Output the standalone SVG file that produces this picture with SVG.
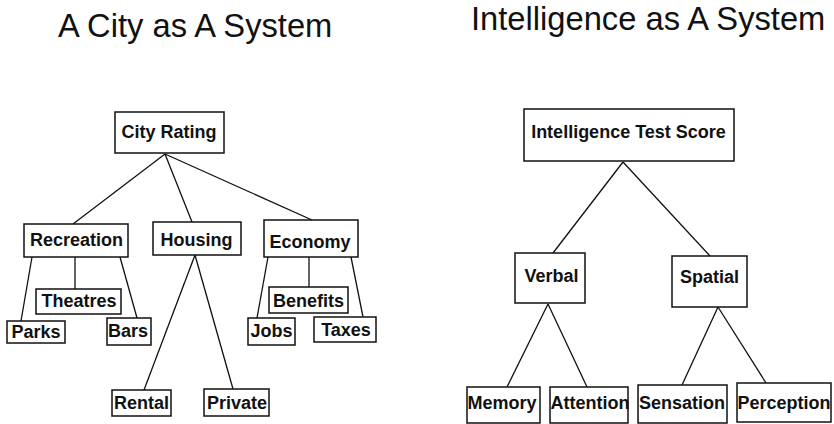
<svg xmlns="http://www.w3.org/2000/svg" width="834" height="424" viewBox="0 0 834 424">
<style>
.bg{fill:#fff}
.box{fill:#fff;stroke:#111;stroke-width:1.5}
.lbl{font-family:"Liberation Sans",Arial,sans-serif;font-size:18px;font-weight:bold;fill:#111;text-anchor:middle}
.title{font-family:"Liberation Sans",Arial,sans-serif;font-size:32.7px;fill:#111}
.edge{stroke:#111;stroke-width:1.3;fill:none}
</style>
<rect class="bg" x="0" y="0" width="834" height="424"/>
<text class="title" x="58" y="37">A City as A System</text>
<text class="title" x="471" y="30">Intelligence as A System</text>
<g id="connectors">
<line class="edge" x1="165" y1="154" x2="73" y2="224"/>
<line class="edge" x1="165" y1="154" x2="192" y2="222"/>
<line class="edge" x1="165" y1="154" x2="312" y2="220"/>
<line class="edge" x1="32" y1="257" x2="21" y2="321"/>
<line class="edge" x1="75" y1="257" x2="75" y2="289"/>
<line class="edge" x1="120" y1="257" x2="137" y2="318"/>
<line class="edge" x1="195" y1="255" x2="144" y2="390"/>
<line class="edge" x1="195" y1="255" x2="233" y2="389"/>
<line class="edge" x1="268" y1="257" x2="257" y2="318"/>
<line class="edge" x1="309" y1="257" x2="309" y2="287"/>
<line class="edge" x1="351" y1="257" x2="363" y2="317"/>
<line class="edge" x1="623" y1="162" x2="553" y2="253"/>
<line class="edge" x1="623" y1="162" x2="710" y2="256"/>
<line class="edge" x1="548" y1="304" x2="507" y2="387"/>
<line class="edge" x1="548" y1="304" x2="587" y2="387"/>
<line class="edge" x1="718" y1="307" x2="682" y2="385"/>
<line class="edge" x1="718" y1="307" x2="766" y2="383"/>
</g>
<g id="city-rating"><rect class="box" x="115" y="112" width="109" height="41"/><text class="lbl" x="169" y="138">City Rating</text></g>
<g id="recreation"><rect class="box" x="24" y="224" width="104" height="33"/><text class="lbl" x="76.5" y="246">Recreation</text></g>
<g id="housing"><rect class="box" x="153" y="222" width="88" height="33"/><text class="lbl" x="196.5" y="246">Housing</text></g>
<g id="economy"><rect class="box" x="264" y="220" width="94" height="37"/><text class="lbl" x="310" y="248">Economy</text></g>
<g id="theatres"><rect class="box" x="36" y="289" width="85" height="25"/><text class="lbl" x="79" y="307">Theatres</text></g>
<g id="parks"><rect class="box" x="7" y="321" width="58" height="22"/><text class="lbl" x="36" y="338">Parks</text></g>
<g id="bars"><rect class="box" x="107" y="318" width="44" height="27"/><text class="lbl" x="128" y="337">Bars</text></g>
<g id="rental"><rect class="box" x="112" y="390" width="59" height="26"/><text class="lbl" x="141.5" y="409">Rental</text></g>
<g id="private"><rect class="box" x="204" y="389" width="65" height="27"/><text class="lbl" x="237" y="409">Private</text></g>
<g id="benefits"><rect class="box" x="269" y="287" width="79" height="26"/><text class="lbl" x="308.5" y="307">Benefits</text></g>
<g id="jobs"><rect class="box" x="248" y="318" width="47" height="27"/><text class="lbl" x="271.5" y="337">Jobs</text></g>
<g id="taxes"><rect class="box" x="314" y="317" width="62" height="25"/><text class="lbl" x="346" y="336">Taxes</text></g>
<g id="intelligence-test-score"><rect class="box" x="524" y="109" width="210" height="52"/><text class="lbl" x="628.5" y="138">Intelligence Test Score</text></g>
<g id="verbal"><rect class="box" x="515" y="253" width="70" height="50"/><text class="lbl" x="551.5" y="282">Verbal</text></g>
<g id="spatial"><rect class="box" x="672" y="256" width="75" height="51"/><text class="lbl" x="709.5" y="283">Spatial</text></g>
<g id="memory"><rect class="box" x="467" y="387" width="73" height="36"/><text class="lbl" x="502" y="409">Memory</text></g>
<g id="attention"><rect class="box" x="550" y="387" width="78" height="36"/><text class="lbl" x="590" y="409">Attention</text></g>
<g id="sensation"><rect class="box" x="638" y="385" width="89" height="38"/><text class="lbl" x="682" y="409">Sensation</text></g>
<g id="perception"><rect class="box" x="737" y="383" width="94" height="39"/><text class="lbl" x="784" y="409">Perception</text></g>
</svg>
